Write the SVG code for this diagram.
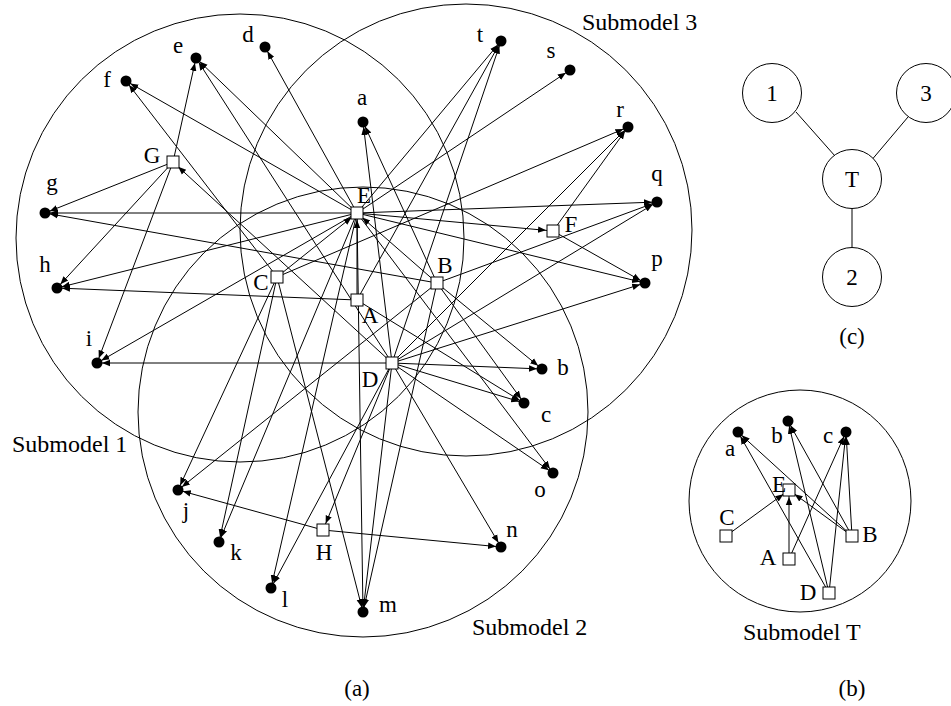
<svg xmlns="http://www.w3.org/2000/svg" width="951" height="706" viewBox="0 0 951 706">
<style>
.bg{fill:#fff}
.sub{fill:none;stroke:#000;stroke-width:1}
.e{stroke:#000;stroke-width:1;fill:none;marker-end:url(#al)}
.es{stroke:#000;stroke-width:1;fill:none;marker-end:url(#as)}
.u{stroke:#000;stroke-width:1;fill:none}
.leaf{fill:#000}
.sq{fill:#fff;stroke:#000;stroke-width:1}
.cn{fill:#fff;stroke:#000;stroke-width:1}
text{font-family:"Liberation Serif","Times New Roman",serif;font-size:23px;fill:#000}
.lb{text-anchor:middle}
.big{font-size:24px}
</style>
<defs>
<marker id="al" markerUnits="userSpaceOnUse" markerWidth="20" markerHeight="10" viewBox="0 -5 20 10" refX="13" refY="0" orient="auto"><path d="M0,-3.2 L8,0 L0,3.2 z" fill="#000"/></marker>
<marker id="as" markerUnits="userSpaceOnUse" markerWidth="20" markerHeight="10" viewBox="0 -5 20 10" refX="15" refY="0" orient="auto"><path d="M0,-3.2 L8,0 L0,3.2 z" fill="#000"/></marker>
</defs>
<rect class="bg" x="0" y="0" width="951" height="706"/>

<g id="submodels">
<circle class="sub" cx="240" cy="238" r="224"/>
<circle class="sub" cx="466" cy="230" r="226"/>
<circle class="sub" cx="363" cy="412" r="225"/>
<text x="12" y="452" class="big">Submodel 1</text>
<text x="472" y="635" class="big">Submodel 2</text>
<text x="582" y="30" class="big">Submodel 3</text>
</g>

<g id="connectors">
<!-- from E -->
<line class="e" x1="357" y1="213" x2="45" y2="213"/>
<line class="e" x1="357" y1="213" x2="126" y2="81"/>
<line class="e" x1="357" y1="213" x2="196" y2="58"/>
<line class="e" x1="357" y1="213" x2="265" y2="47"/>
<line class="e" x1="357" y1="213" x2="57" y2="288"/>
<line class="e" x1="357" y1="213" x2="97" y2="363"/>
<line class="e" x1="357" y1="213" x2="219" y2="542"/>
<line class="e" x1="357" y1="213" x2="271" y2="588"/>
<line class="e" x1="357" y1="213" x2="363" y2="612"/>
<line class="e" x1="357" y1="213" x2="553" y2="473"/>
<line class="e" x1="357" y1="213" x2="645" y2="283"/>
<line class="e" x1="357" y1="213" x2="657" y2="202"/>
<line class="e" x1="357" y1="213" x2="570" y2="70"/>
<line class="e" x1="357" y1="213" x2="501" y2="41"/>
<line class="es" x1="357" y1="213" x2="553" y2="231"/>
<!-- from C -->
<line class="es" x1="277" y1="277" x2="357" y2="213"/>
<line class="e" x1="277" y1="277" x2="126" y2="81"/>
<line class="e" x1="277" y1="277" x2="178" y2="490"/>
<line class="e" x1="277" y1="277" x2="219" y2="542"/>
<line class="e" x1="277" y1="277" x2="363" y2="612"/>
<line class="e" x1="277" y1="277" x2="628" y2="127"/>
<!-- from A -->
<line class="es" x1="357" y1="300" x2="357" y2="213"/>
<line class="e" x1="357" y1="300" x2="57" y2="288"/>
<line class="e" x1="357" y1="300" x2="501" y2="41"/>
<line class="e" x1="357" y1="300" x2="524" y2="403"/>
<!-- from B -->
<line class="es" x1="437" y1="283" x2="357" y2="213"/>
<line class="e" x1="437" y1="283" x2="45" y2="213"/>
<line class="e" x1="437" y1="283" x2="363" y2="122"/>
<line class="e" x1="437" y1="283" x2="542" y2="369"/>
<line class="e" x1="437" y1="283" x2="524" y2="403"/>
<line class="e" x1="437" y1="283" x2="178" y2="490"/>
<line class="e" x1="437" y1="283" x2="363" y2="612"/>
<line class="e" x1="437" y1="283" x2="657" y2="202"/>
<!-- from D -->
<line class="es" x1="392" y1="363" x2="173" y2="162"/>
<line class="e" x1="392" y1="363" x2="196" y2="58"/>
<line class="e" x1="392" y1="363" x2="97" y2="363"/>
<line class="e" x1="392" y1="363" x2="271" y2="588"/>
<line class="e" x1="392" y1="363" x2="363" y2="612"/>
<line class="e" x1="392" y1="363" x2="501" y2="547"/>
<line class="e" x1="392" y1="363" x2="553" y2="473"/>
<line class="e" x1="392" y1="363" x2="645" y2="283"/>
<line class="e" x1="392" y1="363" x2="657" y2="202"/>
<line class="e" x1="392" y1="363" x2="628" y2="127"/>
<line class="es" x1="392" y1="363" x2="323" y2="530"/>
<line class="e" x1="392" y1="363" x2="363" y2="122"/>
<line class="e" x1="392" y1="363" x2="542" y2="369"/>
<line class="e" x1="392" y1="363" x2="524" y2="403"/>
<line class="e" x1="392" y1="363" x2="501" y2="41"/>
<!-- from G -->
<line class="e" x1="173" y1="162" x2="196" y2="58"/>
<line class="e" x1="173" y1="162" x2="45" y2="213"/>
<line class="e" x1="173" y1="162" x2="57" y2="288"/>
<line class="e" x1="173" y1="162" x2="97" y2="363"/>
<!-- from F -->
<line class="e" x1="553" y1="231" x2="645" y2="283"/>
<line class="e" x1="553" y1="231" x2="628" y2="127"/>
<!-- from H -->
<line class="e" x1="323" y1="530" x2="178" y2="490"/>
<line class="e" x1="323" y1="530" x2="501" y2="547"/>
<!-- Submodel T -->
<line class="es" x1="726" y1="536" x2="789" y2="490"/>
<line class="es" x1="789" y1="559" x2="789" y2="490"/>
<line class="es" x1="852" y1="536" x2="789" y2="490"/>
<line class="e" x1="852" y1="536" x2="738" y2="432"/>
<line class="e" x1="852" y1="536" x2="788" y2="421"/>
<line class="e" x1="852" y1="536" x2="846" y2="432"/>
<line class="e" x1="829" y1="593" x2="738" y2="432"/>
<line class="e" x1="829" y1="593" x2="788" y2="421"/>
<line class="e" x1="829" y1="593" x2="846" y2="432"/>
<line class="e" x1="789" y1="559" x2="846" y2="432"/>
<!-- tree (c) -->
<line class="u" x1="796" y1="112" x2="835" y2="156"/>
<line class="u" x1="908" y1="117" x2="870" y2="162"/>
<line class="u" x1="852" y1="208" x2="852" y2="247"/>
</g>

<g id="node-e"><circle class="leaf" cx="196" cy="58" r="5.5"/><text class="lb" x="178" y="53">e</text></g>
<g id="node-f"><circle class="leaf" cx="126" cy="81" r="5.5"/><text class="lb" x="107" y="87">f</text></g>
<g id="node-d"><circle class="leaf" cx="265" cy="47" r="5.5"/><text class="lb" x="248" y="42">d</text></g>
<g id="node-a"><circle class="leaf" cx="363" cy="122" r="5.5"/><text class="lb" x="362" y="105">a</text></g>
<g id="node-t"><circle class="leaf" cx="501" cy="41" r="5.5"/><text class="lb" x="480" y="42">t</text></g>
<g id="node-s"><circle class="leaf" cx="570" cy="70" r="5.5"/><text class="lb" x="551" y="58">s</text></g>
<g id="node-r"><circle class="leaf" cx="628" cy="127" r="5.5"/><text class="lb" x="620" y="117">r</text></g>
<g id="node-q"><circle class="leaf" cx="657" cy="202" r="5.5"/><text class="lb" x="657" y="181">q</text></g>
<g id="node-p"><circle class="leaf" cx="645" cy="283" r="5.5"/><text class="lb" x="657" y="266">p</text></g>
<g id="node-b"><circle class="leaf" cx="542" cy="369" r="5.5"/><text class="lb" x="563" y="375">b</text></g>
<g id="node-c"><circle class="leaf" cx="524" cy="403" r="5.5"/><text class="lb" x="546" y="422">c</text></g>
<g id="node-o"><circle class="leaf" cx="553" cy="473" r="5.5"/><text class="lb" x="540" y="497">o</text></g>
<g id="node-n"><circle class="leaf" cx="501" cy="547" r="5.5"/><text class="lb" x="512" y="537">n</text></g>
<g id="node-m"><circle class="leaf" cx="363" cy="612" r="5.5"/><text class="lb" x="388" y="612">m</text></g>
<g id="node-l"><circle class="leaf" cx="271" cy="588" r="5.5"/><text class="lb" x="285" y="607">l</text></g>
<g id="node-k"><circle class="leaf" cx="219" cy="542" r="5.5"/><text class="lb" x="236" y="560">k</text></g>
<g id="node-j"><circle class="leaf" cx="178" cy="490" r="5.5"/><text class="lb" x="186" y="518">j</text></g>
<g id="node-i"><circle class="leaf" cx="97" cy="363" r="5.5"/><text class="lb" x="89" y="346">i</text></g>
<g id="node-h"><circle class="leaf" cx="57" cy="288" r="5.5"/><text class="lb" x="45" y="272">h</text></g>
<g id="node-g"><circle class="leaf" cx="45" cy="213" r="5.5"/><text class="lb" x="52" y="190">g</text></g>

<g id="node-G"><rect class="sq" x="167" y="156" width="12" height="12"/><text class="lb" x="152" y="163">G</text></g>
<g id="node-E"><rect class="sq" x="351" y="207" width="12" height="12"/><text class="lb" x="364" y="203">E</text></g>
<g id="node-F"><rect class="sq" x="547" y="225" width="12" height="12"/><text class="lb" x="571" y="232">F</text></g>
<g id="node-C"><rect class="sq" x="271" y="271" width="12" height="12"/><text class="lb" x="261" y="290">C</text></g>
<g id="node-A"><rect class="sq" x="351" y="294" width="12" height="12"/><text class="lb" x="370" y="323">A</text></g>
<g id="node-B"><rect class="sq" x="431" y="277" width="12" height="12"/><text class="lb" x="445" y="273">B</text></g>
<g id="node-D"><rect class="sq" x="386" y="357" width="12" height="12"/><text class="lb" x="370" y="387">D</text></g>
<g id="node-H"><rect class="sq" x="317" y="524" width="12" height="12"/><text class="lb" x="324" y="560">H</text></g>

<text class="lb" x="357" y="696">(a)</text>

<g id="submodel-T">
<circle class="sub" cx="800" cy="501" r="111"/>
<text x="743" y="640" class="big">Submodel T</text>
</g>
<g id="t-a"><circle class="leaf" cx="738" cy="432" r="5.5"/><text class="lb" x="730" y="456">a</text></g>
<g id="t-b"><circle class="leaf" cx="788" cy="421" r="5.5"/><text class="lb" x="777" y="443">b</text></g>
<g id="t-c"><circle class="leaf" cx="846" cy="432" r="5.5"/><text class="lb" x="828" y="443">c</text></g>
<g id="t-E"><rect class="sq" x="783" y="484" width="12" height="12"/><text class="lb" x="779" y="492">E</text></g>
<g id="t-C"><rect class="sq" x="720" y="530" width="12" height="12"/><text class="lb" x="727" y="525">C</text></g>
<g id="t-B"><rect class="sq" x="846" y="530" width="12" height="12"/><text class="lb" x="870" y="542">B</text></g>
<g id="t-A"><rect class="sq" x="783" y="553" width="12" height="12"/><text class="lb" x="768" y="565">A</text></g>
<g id="t-D"><rect class="sq" x="823" y="587" width="12" height="12"/><text class="lb" x="808" y="600">D</text></g>
<text class="lb" x="852" y="696">(b)</text>

<g id="c-1"><circle class="cn" cx="772" cy="93" r="29.5"/><text class="lb" x="772" y="101">1</text></g>
<g id="c-3"><circle class="cn" cx="926" cy="93" r="29.5"/><text class="lb" x="926" y="101">3</text></g>
<g id="c-T"><circle class="cn" cx="852" cy="179" r="29.5"/><text class="lb" x="852" y="187">T</text></g>
<g id="c-2"><circle class="cn" cx="852" cy="277" r="29.5"/><text class="lb" x="852" y="285">2</text></g>
<text class="lb" x="852" y="344">(c)</text>
</svg>
